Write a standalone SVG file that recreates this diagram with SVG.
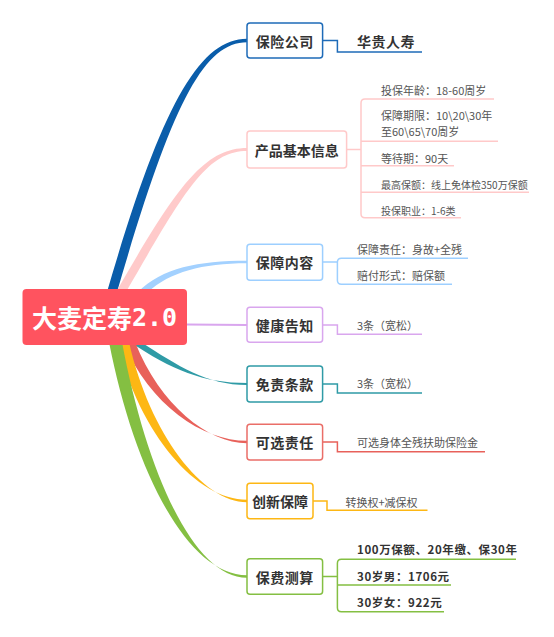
<svg xmlns="http://www.w3.org/2000/svg" width="554" height="637" viewBox="0 0 554 637">
<style>
.bx{fill:#fff;stroke-width:1.5}
.bt{font-family:"Noto Sans CJK SC","Noto Sans",sans-serif;font-weight:bold;font-size:14px;fill:#333;text-anchor:middle;dominant-baseline:central}
.ct{font-family:"Noto Sans CJK SC","Noto Sans",sans-serif;font-size:11px;fill:#555;dominant-baseline:central}
.cs{font-size:10px}
.cb{font-family:"Noto Sans CJK SC","Noto Sans",sans-serif;font-size:11.5px;font-weight:bold;fill:#333;letter-spacing:0.6px;dominant-baseline:central}
.ln{fill:none;stroke-width:1.5}
</style>
<rect width="554" height="637" fill="#fff"/>
<g id="connectors">
<path fill="#0A5DAA" d="M107,292 C160,110 198,38.8 247,38.8 L247,42.2 C202,42.2 170,110 117,292 Z"/>
<path fill="#FFCACA" d="M116,292 C175,190 203,148 247,148 L247,151 C207,151 185,190 126,292 Z"/>
<path fill="#A3D1FF" d="M138,292 C162,268 198,260.8 247,260.8 L247,263.2 C202,263.2 170,272 148,292 Z"/>
<path d="M187,324.5 L247,325" stroke="#D9A6EE" stroke-width="2" fill="none"/>
<path fill="#2F9BA6" d="M130,342 C172,370 203,383 247,383 L247,385 C207,385 178,366 141,342 Z"/>
<path fill="#E8615A" d="M123,342 C150,405 202,440.8 247,440.8 L247,443.2 C208,443.2 160,405 135,342 Z"/>
<path fill="#FDB714" d="M117,342 C140,435 197,499.8 247,499.8 L247,502.2 C203,502.2 150,435 129,342 Z"/>
<path fill="#84BF42" d="M109,342 C134,470 187,575.2 247,575.2 L247,577.8 C193,577.8 146,470 122,342 Z"/>
<path class="ln" stroke="#1E6BB8" d="M322.6,40.5 H337.4 V52 H422"/>
<path class="ln" stroke="#FFC9C9" d="M346.6,149.5 H361 M494,99 H365 Q361,99 361,103 V213.7 Q361,217.7 365,217.7 H461 M361,141.3 H498 M361,165.7 H454 M361,192.3 H529"/>
<path class="ln" stroke="#9DCFFF" d="M322.6,262 H337.4 M468,258.3 H341.4 Q337.4,258.3 337.4,262.3 V280.3 Q337.4,284.3 341.4,284.3 H452"/>
<path class="ln" stroke="#D9A6EE" d="M322.6,325 H337.4 V334.3 H422"/>
<path class="ln" stroke="#2F9BA6" d="M322.6,384 H337.4 V393 H422"/>
<path class="ln" stroke="#E8615A" d="M322.6,442 H337.4 V451.7 H485"/>
<path class="ln" stroke="#FDB714" d="M313,501 H327 V510.3 H427.5"/>
<path class="ln" stroke="#84BF42" d="M322.6,576.5 H337.4 M516,559.3 H341.4 Q337.4,559.3 337.4,563.3 V607.7 Q337.4,611.7 341.4,611.7 H444 M337.4,585 H451"/>
</g>
<g id="root">
<rect x="22.5" y="289" width="164.5" height="56" rx="4" fill="#FF535F"/>
<text x="32" y="317" font-family="Noto Sans CJK SC,sans-serif" font-size="25" font-weight="bold" fill="#fff" dominant-baseline="central">大麦定寿<tspan font-family="DejaVu Sans Mono,monospace">2.0</tspan></text>
</g>
<g id="n1">
<rect class="bx" x="247" y="23" width="75.6" height="35" rx="3" stroke="#1E6BB8"/>
<text class="bt" x="284.8" y="40.5" letter-spacing="0.5">保险公司</text>
<text class="bt" x="386" y="40.5" letter-spacing="0.5">华贵人寿</text>
</g>
<g id="n2">
<rect class="bx" x="247" y="131" width="99.6" height="37" rx="3" stroke="#FFC9C9"/>
<text class="bt" x="296.8" y="149.5">产品基本信息</text>
<text class="ct" x="381" y="90">投保年龄：18-60周岁</text>
<text class="ct" x="381" y="115">保障期限：10\20\30年</text>
<text class="ct" x="381" y="131">至60\65\70周岁</text>
<text class="ct" x="381" y="158">等待期：90天</text>
<text class="ct cs" x="381" y="184.3">最高保额：线上免体检350万保额</text>
<text class="ct cs" x="381" y="210">投保职业：1-6类</text>
</g>
<g id="n3">
<rect class="bx" x="247" y="244.3" width="75.6" height="36" rx="3" stroke="#9DCFFF"/>
<text class="bt" x="284.8" y="262.3" letter-spacing="0.5">保障内容</text>
<text class="ct" x="357" y="249.3">保障责任：身故+全残</text>
<text class="ct" x="357" y="275">赔付形式：赔保额</text>
</g>
<g id="n4">
<rect class="bx" x="247" y="307.3" width="75.6" height="35" rx="3" stroke="#D9A6EE"/>
<text class="bt" x="284.8" y="324.8" letter-spacing="0.5">健康告知</text>
<text class="ct" x="357" y="325">3条（宽松）</text>
</g>
<g id="n5">
<rect class="bx" x="247" y="366" width="75.6" height="36" rx="3" stroke="#2F9BA6"/>
<text class="bt" x="284.8" y="384" letter-spacing="0.5">免责条款</text>
<text class="ct" x="357" y="383.3">3条（宽松）</text>
</g>
<g id="n6">
<rect class="bx" x="247" y="424.3" width="75.6" height="35.7" rx="3" stroke="#EA6E68"/>
<text class="bt" x="284.8" y="442.2" letter-spacing="0.5">可选责任</text>
<text class="ct" x="357" y="442.3">可选身体全残扶助保险金</text>
</g>
<g id="n7">
<rect class="bx" x="247" y="483.3" width="66" height="35.4" rx="3" stroke="#FDB714"/>
<text class="bt" x="280" y="501" font-size="12.5">创新保障</text>
<text class="ct" x="345.5" y="501.7" font-size="11.8">转换权+减保权</text>
</g>
<g id="n8">
<rect class="bx" x="247" y="558.7" width="75.6" height="35.6" rx="3" stroke="#84BF42"/>
<text class="bt" x="284.8" y="576.5" letter-spacing="0.5">保费测算</text>
<text class="cb" x="357" y="549.3">100万保额、20年缴、保30年</text>
<text class="cb" x="357" y="575.7">30岁男：1706元</text>
<text class="cb" x="357" y="602.3">30岁女：922元</text>
</g>
</svg>
